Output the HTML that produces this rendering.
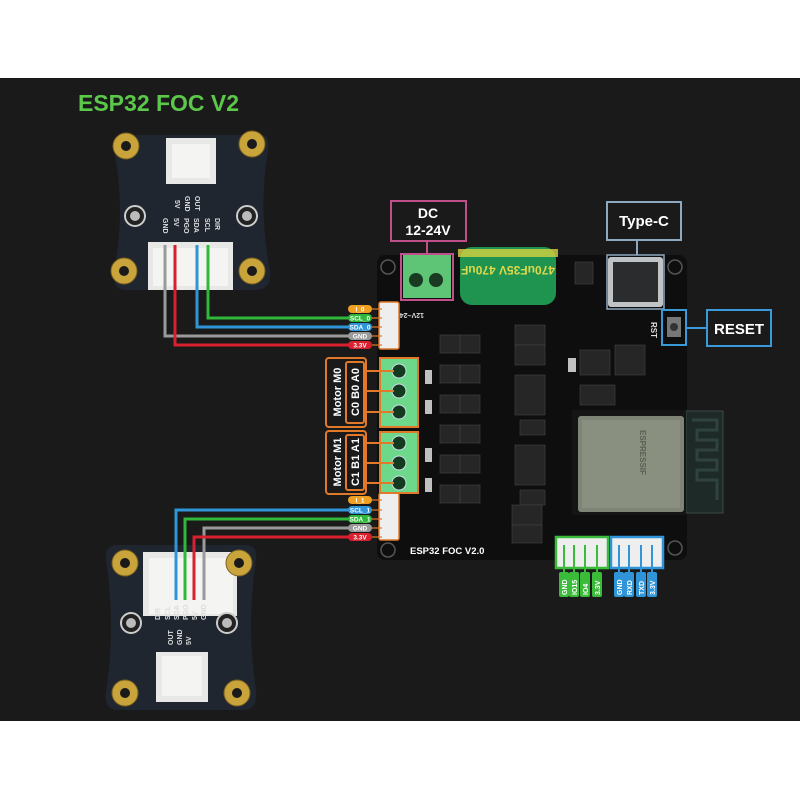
<!DOCTYPE html>
<html><head><meta charset="utf-8"><style>
html,body{margin:0;padding:0;background:#fff;width:800px;height:800px;overflow:hidden}
svg{display:block}
text{font-family:"Liberation Sans","DejaVu Sans",sans-serif;font-weight:bold}
</style></head><body>
<svg width="800" height="800" viewBox="0 0 800 800">
<rect x="0" y="0" width="800" height="800" fill="#fff"/>
<rect x="0" y="78" width="800" height="643" fill="#1a1a1a"/>
<text x="78" y="111" font-size="23" fill="#5cc84a">ESP32 FOC V2</text>

<!-- top sensor board -->
<g>
<path d="M122,135 L262,135 Q270,135 268,150 Q258,210 270,270 Q272,290 255,290 L125,290 Q112,290 114,272 Q126,210 114,150 Q112,135 122,135Z" fill="#1f2630"/>
<rect x="166" y="138" width="50" height="46" fill="#e8e8e6"/>
<rect x="172" y="144" width="38" height="34" fill="#f4f4f2"/>
<rect x="148" y="242" width="85" height="48" fill="#e8e8e6"/>
<rect x="153" y="248" width="75" height="38" fill="#f4f4f2"/>
<circle cx="135" cy="216" r="10" fill="#222" stroke="#ccc" stroke-width="2"/>
<circle cx="247" cy="216" r="10" fill="#222" stroke="#ccc" stroke-width="2"/>
<circle cx="135" cy="216" r="5" fill="#bbb"/><circle cx="247" cy="216" r="5" fill="#bbb"/>
<g font-size="7" fill="#ddd" font-weight="normal">
<text x="175" y="200" transform="rotate(90 175 200)">5V</text>
<text x="185" y="196" transform="rotate(90 185 196)">GND</text>
<text x="195" y="196" transform="rotate(90 195 196)">OUT</text>
<text x="163" y="218" transform="rotate(90 163 218)">GND</text>
<text x="174" y="218" transform="rotate(90 174 218)">5V</text>
<text x="184" y="218" transform="rotate(90 184 218)">PGO</text>
<text x="194" y="218" transform="rotate(90 194 218)">SDA</text>
<text x="205" y="218" transform="rotate(90 205 218)">SCL</text>
<text x="215" y="218" transform="rotate(90 215 218)">DIR</text>
</g>
</g>
<g fill="#c9a43a" stroke="#7a6020" stroke-width="1">
<circle cx="126" cy="146" r="13"/><circle cx="252" cy="144" r="13"/>
<circle cx="124" cy="271" r="13"/><circle cx="252" cy="271" r="13"/>
</g>
<g fill="#1a1a1a"><circle cx="126" cy="146" r="5"/><circle cx="252" cy="144" r="5"/><circle cx="124" cy="271" r="5"/><circle cx="252" cy="271" r="5"/></g>

<!-- bottom sensor board -->
<g>
<path d="M118,545 L245,545 Q258,545 256,560 Q246,625 256,690 Q258,710 243,710 L118,710 Q104,710 106,692 Q116,625 106,560 Q104,545 118,545Z" fill="#1f2630"/>
<rect x="143" y="552" width="94" height="64" fill="#e8e8e6"/>
<rect x="149" y="558" width="84" height="56" fill="#f4f4f2"/>
<rect x="156" y="652" width="52" height="50" fill="#e8e8e6"/>
<rect x="162" y="656" width="40" height="40" fill="#f4f4f2"/>
<circle cx="131" cy="623" r="10" fill="#222" stroke="#ccc" stroke-width="2"/>
<circle cx="227" cy="623" r="10" fill="#222" stroke="#ccc" stroke-width="2"/>
<circle cx="131" cy="623" r="5" fill="#bbb"/><circle cx="227" cy="623" r="5" fill="#bbb"/>
<g font-size="7" fill="#ddd" font-weight="normal">
<text x="160" y="620" transform="rotate(-90 160 620)">DIR</text>
<text x="170" y="620" transform="rotate(-90 170 620)">SCL</text>
<text x="179" y="620" transform="rotate(-90 179 620)">SDA</text>
<text x="188" y="620" transform="rotate(-90 188 620)">PGO</text>
<text x="197" y="620" transform="rotate(-90 197 620)">5V</text>
<text x="206" y="620" transform="rotate(-90 206 620)">GND</text>
<text x="173" y="645" transform="rotate(-90 173 645)">OUT</text>
<text x="182" y="645" transform="rotate(-90 182 645)">GND</text>
<text x="191" y="645" transform="rotate(-90 191 645)">5V</text>
</g>
</g>
<g fill="#c9a43a" stroke="#7a6020" stroke-width="1">
<circle cx="125" cy="563" r="13"/><circle cx="239" cy="563" r="13"/>
<circle cx="125" cy="693" r="13"/><circle cx="237" cy="693" r="13"/>
</g>
<g fill="#1a1a1a"><circle cx="125" cy="563" r="5"/><circle cx="239" cy="563" r="5"/><circle cx="125" cy="693" r="5"/><circle cx="237" cy="693" r="5"/></g>

<!-- main board -->
<rect x="377" y="255" width="310" height="305" rx="8" fill="#0e0e0f"/>
<g fill="none" stroke="#555" stroke-width="1.5">
<circle cx="388" cy="267" r="7"/><circle cx="675" cy="267" r="7"/><circle cx="388" cy="550" r="7"/><circle cx="675" cy="548" r="7"/>
</g>
<g fill="#262626" stroke="#444" stroke-width="0.6">
<rect x="440" y="335" width="20" height="18"/><rect x="460" y="335" width="20" height="18"/>
<rect x="440" y="365" width="20" height="18"/><rect x="460" y="365" width="20" height="18"/>
<rect x="440" y="395" width="20" height="18"/><rect x="460" y="395" width="20" height="18"/>
<rect x="440" y="425" width="20" height="18"/><rect x="460" y="425" width="20" height="18"/>
<rect x="440" y="455" width="20" height="18"/><rect x="460" y="455" width="20" height="18"/>
<rect x="440" y="485" width="20" height="18"/><rect x="460" y="485" width="20" height="18"/>
<rect x="515" y="325" width="30" height="20"/><rect x="515" y="345" width="30" height="20"/>
<rect x="515" y="375" width="30" height="40"/><rect x="520" y="420" width="25" height="15"/>
<rect x="515" y="445" width="30" height="40"/><rect x="520" y="490" width="25" height="15"/>
<rect x="512" y="505" width="30" height="20"/><rect x="512" y="525" width="30" height="18"/>
<rect x="580" y="350" width="30" height="25"/><rect x="615" y="345" width="30" height="30"/>
<rect x="580" y="385" width="35" height="20"/>
<rect x="575" y="262" width="18" height="22"/>
</g>
<g fill="#e0e0e0" opacity="0.85">
<rect x="425" y="370" width="7" height="14"/><rect x="425" y="400" width="7" height="14"/>
<rect x="425" y="448" width="7" height="14"/><rect x="425" y="478" width="7" height="14"/>
<rect x="568" y="358" width="8" height="14"/>
</g>
<rect x="608" y="257" width="55" height="50" rx="3" fill="#bfc3c6"/>
<rect x="613" y="262" width="45" height="40" fill="#2a2c2e"/>
<rect x="607" y="255" width="57" height="54" fill="none" stroke="#8ea8c0" stroke-width="1.5"/>
<rect x="662" y="310" width="24" height="35" fill="none" stroke="#3a9ad8" stroke-width="2"/>
<rect x="667" y="317" width="14" height="20" fill="#777"/>
<circle cx="674" cy="327" r="4" fill="#333"/>
<line x1="686" y1="328" x2="707" y2="328" stroke="#3a9ad8" stroke-width="2"/>
<text x="651" y="322" font-size="8" fill="#ddd" transform="rotate(90 651 322)">RST</text>
<rect x="686" y="411" width="37" height="102" fill="#1e2a28" stroke="#3a4a45"/>
<path d="M692,420 h25 v10 h-20 v10 h20 v10 h-20 v10 h20 v10 h-20 v10 h20 v20" fill="none" stroke="#2f423c" stroke-width="3"/>
<rect x="572" y="410" width="114" height="105" fill="#151515"/>
<rect x="578" y="416" width="106" height="96" rx="3" fill="#7f8576"/>
<rect x="582" y="420" width="98" height="88" fill="#8a907f"/>
<text x="640" y="430" font-size="8" fill="#5b6056" transform="rotate(90 640 430)">ESPRESSIF</text>
<!-- capacitor -->
<rect x="460" y="247" width="96" height="58" rx="12" fill="#1f9450"/>
<rect x="458" y="249" width="100" height="8" fill="#d6d242" opacity="0.8"/>
<text x="508" y="274" font-size="12" fill="#e0d84a" text-anchor="middle" transform="rotate(180 508 270)" font-weight="normal">470uF35V 470uF</text>
<!-- DC terminal -->
<rect x="403" y="255" width="48" height="43" fill="#5ec476"/>
<rect x="401" y="254" width="52" height="46" fill="none" stroke="#c0508a" stroke-width="2"/>
<circle cx="416" cy="280" r="7" fill="#1a3a22"/><circle cx="436" cy="280" r="7" fill="#1a3a22"/>
<text x="448" y="303" font-size="7" fill="#ddd" transform="rotate(180 436 308)">12V~24V</text>
<rect x="379" y="302" width="20" height="47" rx="2" fill="#eee" stroke="#e07a2a" stroke-width="1.5"/>
<rect x="379" y="493" width="20" height="47" rx="2" fill="#eee" stroke="#e07a2a" stroke-width="1.5"/>
<rect x="380" y="358" width="38" height="69" fill="#6ed88a" stroke="#e07a2a" stroke-width="2"/>
<rect x="380" y="432" width="38" height="61" fill="#6ed88a" stroke="#e07a2a" stroke-width="2"/>
<g fill="#143a1f" stroke="#cde" stroke-width="1">
<circle cx="399" cy="371" r="7"/><circle cx="399" cy="391" r="7"/><circle cx="399" cy="412" r="7"/>
<circle cx="399" cy="443" r="7"/><circle cx="399" cy="463" r="7"/><circle cx="399" cy="483" r="7"/>
</g>
<g fill="#1a1a1a" stroke="#e07a2a" stroke-width="2">
<rect x="326" y="358" width="40" height="69" rx="3"/><rect x="346" y="362" width="18" height="61" rx="2"/>
<rect x="326" y="431" width="40" height="63" rx="3"/><rect x="346" y="435" width="18" height="55" rx="2"/>
</g>
<g stroke="#e07a2a" stroke-width="2">
<line x1="364" y1="371" x2="394" y2="371"/><line x1="364" y1="391" x2="394" y2="391"/><line x1="364" y1="412" x2="394" y2="412"/>
<line x1="364" y1="443" x2="394" y2="443"/><line x1="364" y1="463" x2="394" y2="463"/><line x1="364" y1="483" x2="394" y2="483"/>
</g>
<g font-size="11" fill="#fff">
<text x="341" y="392" text-anchor="middle" transform="rotate(-90 341 392)">Motor M0</text>
<text x="359" y="392" text-anchor="middle" transform="rotate(-90 359 392)">C0 B0 A0</text>
<text x="341" y="462" text-anchor="middle" transform="rotate(-90 341 462)">Motor M1</text>
<text x="359" y="462" text-anchor="middle" transform="rotate(-90 359 462)">C1 B1 A1</text>
</g>
<g fill="none" stroke-width="3">
<path d="M208,245 V318 H350" stroke="#2fb83a"/>
<path d="M197,245 V327 H350" stroke="#2f95d8"/>
<path d="M165,245 V336 H350" stroke="#9a9a9a"/>
<path d="M175,245 V345 H350" stroke="#d8202e"/>
<path d="M176,600 V510 H350" stroke="#2f95d8"/>
<path d="M185,600 V519 H350" stroke="#2fb83a"/>
<path d="M204,600 V528 H350" stroke="#9a9a9a"/>
<path d="M194,600 V537 H350" stroke="#d8202e"/>
</g>
<g font-size="6.5" text-anchor="middle" fill="#fff">
<rect x="348" y="305" width="24" height="8" rx="4" fill="#f0a020"/><text x="360" y="311.5">I_0</text>
<rect x="348" y="314" width="24" height="8" rx="4" fill="#2fb83a"/><text x="360" y="320.5">SCL_0</text>
<rect x="348" y="323" width="24" height="8" rx="4" fill="#2f95d8"/><text x="360" y="329.5">SDA_0</text>
<rect x="348" y="332" width="24" height="8" rx="4" fill="#9a9a9a"/><text x="360" y="338.5">GND</text>
<rect x="348" y="341" width="24" height="8" rx="4" fill="#d8202e"/><text x="360" y="347.5">3.3V</text>
<rect x="348" y="496" width="24" height="8" rx="4" fill="#f0a020"/><text x="360" y="502.5">I_1</text>
<rect x="348" y="506" width="24" height="8" rx="4" fill="#2f95d8"/><text x="360" y="512.5">SCL_1</text>
<rect x="348" y="515" width="24" height="8" rx="4" fill="#2fb83a"/><text x="360" y="521.5">SDA_1</text>
<rect x="348" y="524" width="24" height="8" rx="4" fill="#9a9a9a"/><text x="360" y="530.5">GND</text>
<rect x="348" y="533" width="24" height="8" rx="4" fill="#d8202e"/><text x="360" y="539.5">3.3V</text>
</g>
<g stroke="#e07a2a" stroke-width="1.2"><line x1="372" y1="309" x2="382" y2="309"/><line x1="372" y1="318" x2="382" y2="318"/><line x1="372" y1="327" x2="382" y2="327"/><line x1="372" y1="336" x2="382" y2="336"/><line x1="372" y1="345" x2="382" y2="345"/>
<line x1="372" y1="500" x2="382" y2="500"/><line x1="372" y1="510" x2="382" y2="510"/><line x1="372" y1="519" x2="382" y2="519"/><line x1="372" y1="528" x2="382" y2="528"/><line x1="372" y1="537" x2="382" y2="537"/></g>

<text x="410" y="554" font-size="9.5" fill="#fff">ESP32 FOC V2.0</text>

<rect x="556" y="537" width="52" height="31" fill="#eee" stroke="#3bbb3a" stroke-width="2.5"/>
<rect x="611" y="537" width="52" height="31" fill="#eee" stroke="#2f95d8" stroke-width="2.5"/>
<g stroke="#3bbb3a" stroke-width="2"><line x1="564" y1="545" x2="564" y2="572"/><line x1="574" y1="545" x2="574" y2="572"/><line x1="585" y1="545" x2="585" y2="572"/><line x1="597" y1="545" x2="597" y2="572"/></g>
<g stroke="#2f95d8" stroke-width="2"><line x1="619" y1="545" x2="619" y2="572"/><line x1="629" y1="545" x2="629" y2="572"/><line x1="641" y1="545" x2="641" y2="572"/><line x1="652" y1="545" x2="652" y2="572"/></g>
<g font-size="7" fill="#fff">
<rect x="559" y="572" width="10" height="25" rx="2" fill="#3bbb3a"/><text x="567" y="595" transform="rotate(-90 567 595)">GND</text>
<rect x="569" y="572" width="10" height="25" rx="2" fill="#3bbb3a"/><text x="577" y="595" transform="rotate(-90 577 595)">IO15</text>
<rect x="580" y="572" width="10" height="25" rx="2" fill="#3bbb3a"/><text x="588" y="595" transform="rotate(-90 588 595)">IO4</text>
<rect x="592" y="572" width="10" height="25" rx="2" fill="#3bbb3a"/><text x="600" y="595" transform="rotate(-90 600 595)">3.3V</text>
<rect x="614" y="572" width="10" height="25" rx="2" fill="#2f95d8"/><text x="622" y="595" transform="rotate(-90 622 595)">GND</text>
<rect x="624" y="572" width="10" height="25" rx="2" fill="#2f95d8"/><text x="632" y="595" transform="rotate(-90 632 595)">RXD</text>
<rect x="636" y="572" width="10" height="25" rx="2" fill="#2f95d8"/><text x="644" y="595" transform="rotate(-90 644 595)">TXD</text>
<rect x="647" y="572" width="10" height="25" rx="2" fill="#2f95d8"/><text x="655" y="595" transform="rotate(-90 655 595)">3.3V</text>
</g>

<rect x="391" y="201" width="75" height="40" fill="#1a1a1a" stroke="#c0508a" stroke-width="2"/>
<line x1="427" y1="241" x2="427" y2="254" stroke="#c0508a" stroke-width="2"/>
<text x="428" y="218" font-size="14" fill="#fff" text-anchor="middle">DC</text>
<text x="428" y="235" font-size="14" fill="#fff" text-anchor="middle">12-24V</text>
<rect x="607" y="202" width="74" height="38" fill="#1a1a1a" stroke="#8ea8c0" stroke-width="2"/>
<line x1="637" y1="240" x2="637" y2="255" stroke="#8ea8c0" stroke-width="2"/>
<text x="644" y="226" font-size="15" fill="#fff" text-anchor="middle">Type-C</text>
<rect x="707" y="310" width="64" height="36" fill="#1a1a1a" stroke="#3a9ad8" stroke-width="2"/>
<text x="739" y="334" font-size="15" fill="#fff" text-anchor="middle">RESET</text>
</svg>
</body></html>
